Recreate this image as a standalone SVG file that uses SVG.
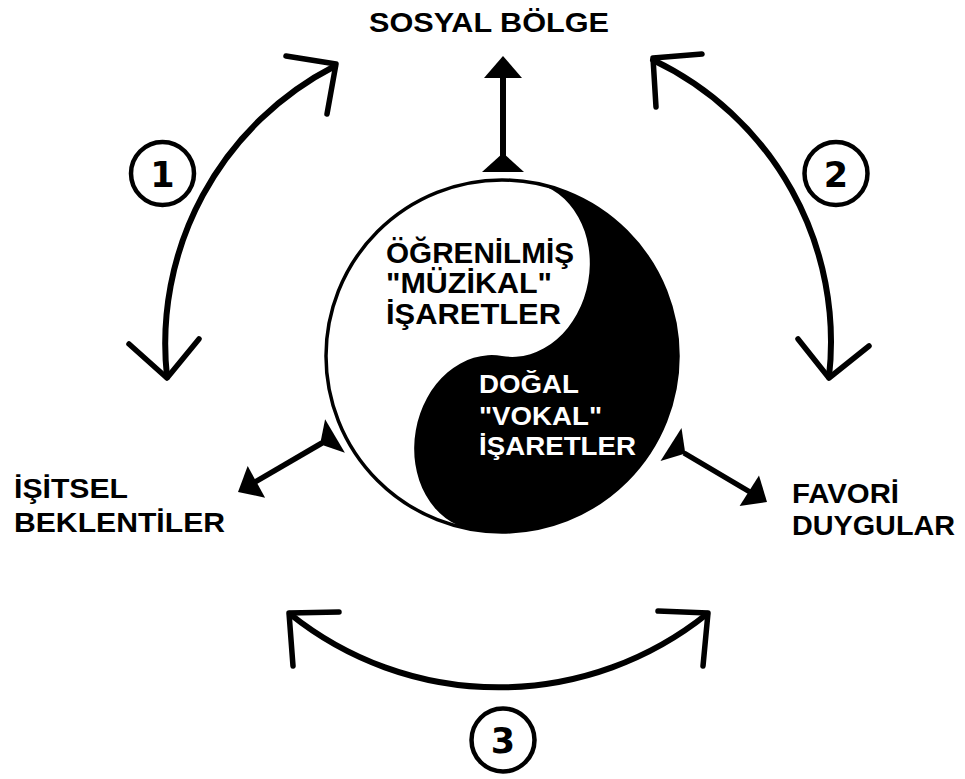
<svg xmlns="http://www.w3.org/2000/svg" width="965" height="779" viewBox="0 0 965 779">
<style>
.lbl{font-family:"Liberation Sans",Arial,sans-serif;font-weight:bold;fill:#000}
.inw{font-family:"Liberation Sans",Arial,sans-serif;font-weight:bold;fill:#fff}
.num{font-family:"DejaVu Sans",Verdana,sans-serif;font-weight:bold;font-size:35px;fill:#000;text-anchor:middle}
.ring{fill:none;stroke:#000;stroke-width:4.5}
.shaft{fill:none;stroke:#000;stroke-width:6;stroke-linecap:round}
.barb{fill:none;stroke:#000;stroke-width:5.5;stroke-linecap:round;stroke-linejoin:round}
.line{fill:none;stroke:#000;stroke-width:5.5}
.head{fill:#000;stroke:none}
</style>
<rect width="965" height="779" fill="#fff"/>

<g id="connectors">
  <!-- top arrow -->
  <line class="line" x1="503" y1="170" x2="503" y2="74" style="stroke-width:6"/>
  <polygon class="head" points="482,172 524,172 503,153"/>
  <polygon class="head" points="484,78 522,78 503,56"/>
  <!-- left arrow -->
  <line class="line" x1="322" y1="443" x2="250" y2="485"/>
  <polygon class="head" points="325.1,419.2 344.9,452.8 320.1,444.2"/>
  <polygon class="head" points="238,492 265.1,497.7 247.7,466.1"/>
  <!-- right arrow -->
  <line class="line" x1="684" y1="453" x2="755" y2="495"/>
  <polygon class="head" points="660.5,461 681.5,428 685.3,453.6"/>
  <polygon class="head" points="767,502 739.6,505.9 759,475.5"/>
  <!-- curved arrow 1 -->
  <path class="shaft" d="M 167 377 A 312 312 0 0 1 335 66"/>
  <path class="barb" d="M 286 56 L 336 64 L 327 114"/>
  <path class="barb" d="M 129 344 L 167 378 L 199 339"/>
  <!-- curved arrow 2 -->
  <path class="shaft" d="M 653 60 A 312 312 0 0 1 829 377"/>
  <path class="barb" d="M 702 54 L 653 58 L 656 107"/>
  <path class="barb" d="M 798 339 L 829 378 L 869 346"/>
  <!-- curved arrow 3 -->
  <path class="shaft" d="M 290 614 A 333 333 0 0 0 707 614"/>
  <path class="barb" d="M 339 612 L 289 613 L 293 666"/>
  <path class="barb" d="M 658 611 L 708 613 L 703 666"/>
</g>

<g id="yinyang">
  <circle cx="502" cy="356" r="176" fill="#fff" stroke="#000" stroke-width="3.5"/>
  <path d="M 502 180 A 176 176 0 0 1 502 532 A 72 88 0 0 1 502 356 A 72 88 0 0 0 502 180 Z" fill="#000" transform="rotate(10 502 356)"/>
  <g id="learned">
    <text class="lbl" x="386" y="263" font-size="29" textLength="188" lengthAdjust="spacingAndGlyphs">ÖĞRENİLMİŞ</text>
    <text class="lbl" x="386" y="293" font-size="29" textLength="166" lengthAdjust="spacingAndGlyphs">"MÜZİKAL"</text>
    <text class="lbl" x="386" y="324" font-size="29" textLength="175" lengthAdjust="spacingAndGlyphs">İŞARETLER</text>
  </g>
  <g id="natural">
    <text class="inw" x="479" y="393" font-size="26.5" textLength="100" lengthAdjust="spacingAndGlyphs">DOĞAL</text>
    <text class="inw" x="479" y="425" font-size="26.5" textLength="123" lengthAdjust="spacingAndGlyphs">"VOKAL"</text>
    <text class="inw" x="479" y="455" font-size="26.5" textLength="157" lengthAdjust="spacingAndGlyphs">İŞARETLER</text>
  </g>
</g>

<g id="sosyal">
  <text class="lbl" x="369" y="32" font-size="27" textLength="240" lengthAdjust="spacingAndGlyphs">SOSYAL BÖLGE</text>
</g>
<g id="isitsel">
  <text class="lbl" x="14" y="498" font-size="28" textLength="114" lengthAdjust="spacingAndGlyphs">İŞİTSEL</text>
  <text class="lbl" x="14" y="532" font-size="28" textLength="211" lengthAdjust="spacingAndGlyphs">BEKLENTİLER</text>
</g>
<g id="favori">
  <text class="lbl" x="792" y="503" font-size="28" textLength="107" lengthAdjust="spacingAndGlyphs">FAVORİ</text>
  <text class="lbl" x="792" y="535" font-size="28" textLength="163" lengthAdjust="spacingAndGlyphs">DUYGULAR</text>
</g>

<g id="n1">
  <circle class="ring" cx="162.5" cy="173.5" r="31.5"/>
  <text class="num" x="162.5" y="186.5">1</text>
</g>
<g id="n2">
  <circle class="ring" cx="836" cy="173.5" r="31.5"/>
  <text class="num" x="836" y="186.5">2</text>
</g>
<g id="n3">
  <circle class="ring" cx="503" cy="740" r="31.5"/>
  <text class="num" x="503" y="753">3</text>
</g>
</svg>
